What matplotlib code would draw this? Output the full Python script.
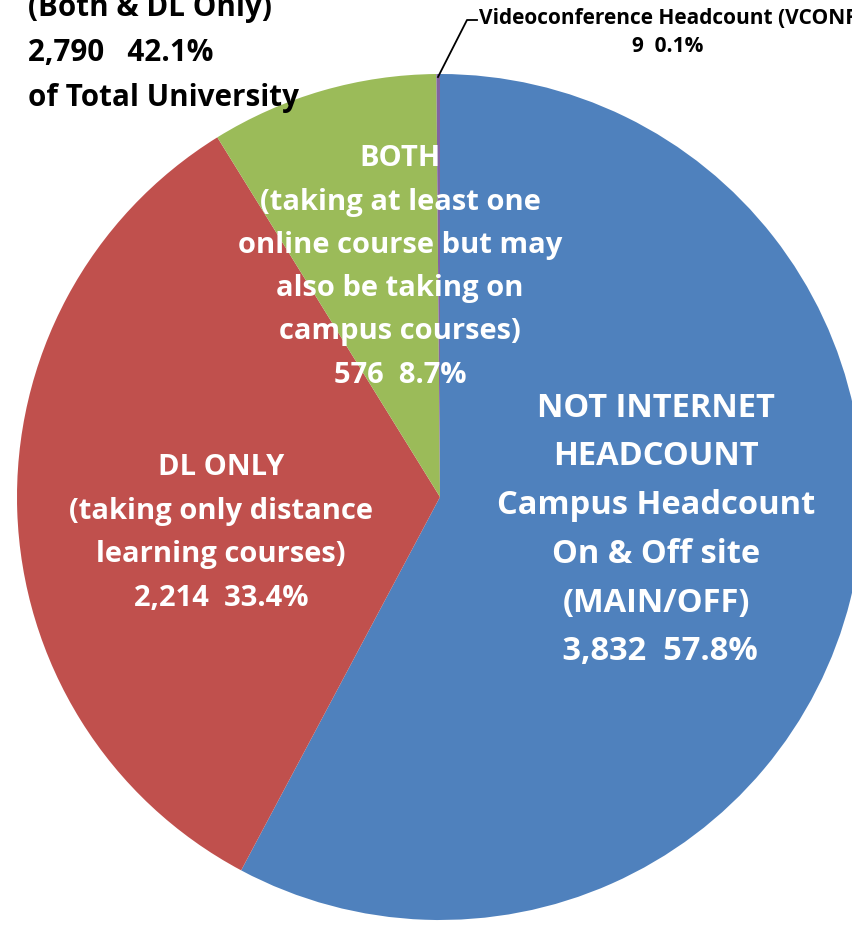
import matplotlib
matplotlib.use('Agg')
import matplotlib.pyplot as plt

# headcount by category, clockwise from 12 o'clock
labels = ['NOT INTERNET\nHEADCOUNT\nCampus Headcount\nOn & Off site\n(MAIN/OFF)',
          'DL ONLY\n(taking only distance\nlearning courses)',
          'BOTH\n(taking at least one\nonline course but may\nalso be taking on\ncampus courses)',
          'Videoconference Headcount (VCONF)']
counts = [3832, 2214, 576, 9]
colors = ['#4F81BD', '#C0504D', '#9BBB59', '#8064A2']

total = sum(counts)
online = counts[1] + counts[2]

W, H = 853, 926
fig = plt.figure(figsize=(W / 100, H / 100), dpi=100)
ax = fig.add_axes([0, 0, 1, 1])
ax.axis('off')

cx, cy, r = 440, H - 497, 423
ax.pie(counts, colors=colors, startangle=90, counterclock=False,
       center=(cx, cy), radius=r, wedgeprops=dict(linewidth=0))
ax.set_xlim(0, W)
ax.set_ylim(0, H)
ax.set_aspect('equal')

plt.rcParams['font.family'] = ['Open Sans', 'DejaVu Sans']

def pct(v):
    return '%.1f%%' % (100.0 * v / total)

# slice labels (white, inside)
ax.text(656, H - 530, labels[0] + '\n %s  %s' % (format(counts[0], ','), pct(counts[0])),
        color='white', fontsize=23.5, fontweight='bold', ha='center', va='center',
        linespacing=1.63)
ax.text(221, H - 533, labels[1] + '\n%s  %s' % (format(counts[1], ','), pct(counts[1])),
        color='white', fontsize=21, fontweight='bold', ha='center', va='center',
        linespacing=1.67)
ax.text(400, H - 267, labels[2] + '\n%s  %s' % (format(counts[2], ','), pct(counts[2])),
        color='white', fontsize=21, fontweight='bold', ha='center', va='center',
        linespacing=1.65)

# tiny slice with leader line
ax.plot([438, 467, 477], [H - 77, H - 20, H - 20], color='black', lw=1.3)
ax.text(479, H - 18, labels[3], color='black', fontsize=15, fontweight='bold',
        ha='left', va='center')
ax.text(668, H - 46, '%d  %s' % (counts[3], pct(counts[3])), color='black',
        fontsize=15, fontweight='bold', ha='center', va='center')

# online total in top-left corner
ax.text(28, H - 53, '(Both & DL Only)\n%s   %s\nof Total University'
        % (format(online, ','), pct(online)),
        color='black', fontsize=21.3, fontweight='bold', ha='left', va='center',
        linespacing=1.64)

fig.savefig('out.png', dpi=100)
